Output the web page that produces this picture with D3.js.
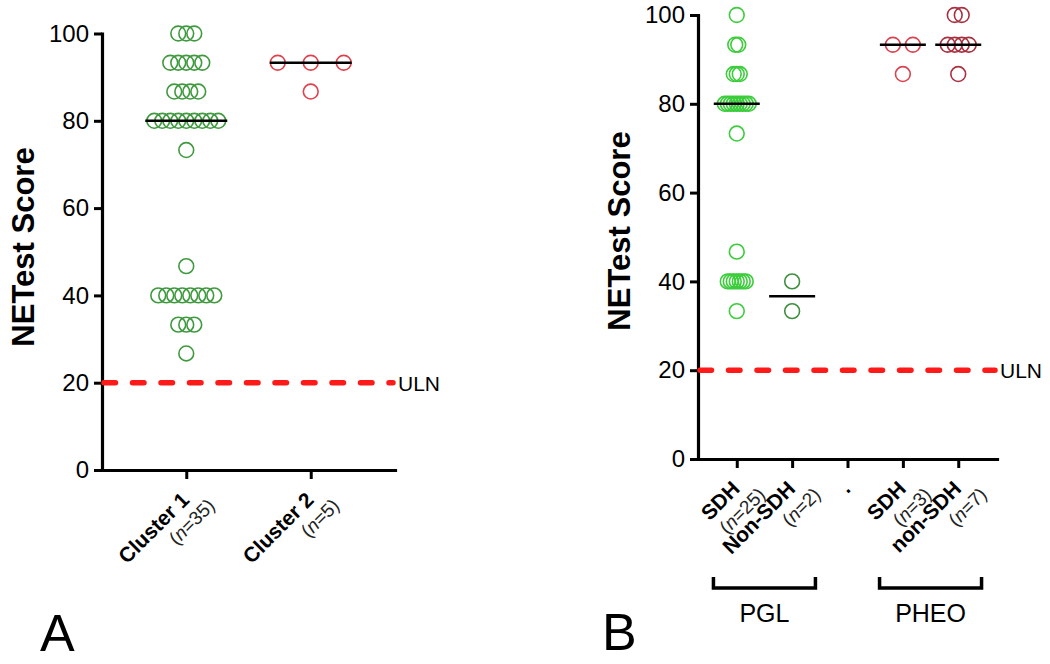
<!DOCTYPE html>
<html>
<head>
<meta charset="utf-8">
<script src="https://cdn.jsdelivr.net/npm/d3@7"></script>
<style>
  html, body { margin: 0; padding: 0; background: #fff; }
  svg { display: block; font-family: "Liberation Sans", Arial, sans-serif; }
</style>
</head>
<body>
<svg id="chart" width="1050" height="664"></svg>
<script>
// ---------------- DATA ----------------
const yTicks = [0, 20, 40, 60, 80, 100];
const ulnValue = 20;
const ulnLabel = "ULN";
const yTitle = "NETest Score";

// Panel A
const catsA = ["Cluster 1", "Cluster 2"];
const nA = ["35", "5"];
const scoresCluster1 = [100, 100, 100, 93.3, 93.3, 93.3, 93.3, 93.3, 86.7, 86.7, 86.7, 86.7,
  80, 80, 80, 80, 80, 80, 80, 80, 80, 73.3, 46.7,
  40, 40, 40, 40, 40, 40, 40, 40, 33.3, 33.3, 33.3, 26.7];
const scoresCluster2 = [93.3, 93.3, 93.3, 86.7];

// Panel B
const keysB = ["PGL SDH", "PGL Non-SDH", "gap", "PHEO SDH", "PHEO non-SDH"];
const catsB = ["SDH", "Non-SDH", ".", "SDH", "non-SDH"];
const nB = ["25", "2", "", "3", "7"];
const groupLabelsB = ["PGL", "PHEO"];
const scoresPglSdh = [100, 93.3, 93.3, 86.7, 86.7, 86.7,
  80, 80, 80, 80, 80, 80, 80, 80, 80, 73.3, 46.7,
  40, 40, 40, 40, 40, 40, 40, 33.3];
const scoresPglNonSdh = [40, 33.3];
const scoresPheoSdh = [93.3, 93.3, 86.7];
const scoresPheoNonSdh = [100, 100, 93.3, 93.3, 93.3, 93.3, 86.7];

// ---------------- STYLE ----------------
const FONT = '"Liberation Sans", Arial, sans-serif';
const svg = d3.select("#chart");
svg.append("rect").attr("width", 1050).attr("height", 664).attr("fill", "#fff");

function swarm(values, spacing) {
  const groups = d3.group(values, v => v);
  const out = [];
  for (const [v, arr] of groups) {
    const k = arr.length;
    arr.forEach((_, i) => out.push({ v, off: (i - (k - 1) / 2) * spacing }));
  }
  return out;
}

function drawPanel(cfg) {
  const g = svg.append("g");
  const y = d3.scaleLinear().domain([0, 100]).range([cfg.y0, cfg.y100]);
  const x = d3.scalePoint().domain(cfg.keys).range([cfg.xLeft, cfg.xRight]).padding(cfg.pad);

  // Y axis
  const ya = g.append("g").attr("transform", `translate(${cfg.xLeft},0)`)
    .call(d3.axisLeft(y).tickValues(yTicks).tickSize(8).tickSizeOuter(0).tickPadding(5));
  ya.select(".domain").attr("stroke-width", 3.2).attr("stroke-linecap", "square");
  ya.selectAll(".tick line").attr("stroke-width", 3);
  ya.selectAll(".tick text").attr("font-size", 24).attr("font-family", FONT).attr("fill", "#000");

  // X axis
  const xa = g.append("g").attr("transform", `translate(0,${cfg.y0})`)
    .call(d3.axisBottom(x).tickSize(9).tickSizeOuter(0).tickFormat(""));
  xa.select(".domain").attr("stroke-width", 3.2).attr("stroke-linecap", "square");
  xa.selectAll(".tick line").attr("stroke-width", 3);

  // Y title
  g.append("text")
    .attr("transform", `translate(${cfg.titleX},${cfg.titleY}) rotate(-90)`)
    .attr("text-anchor", "middle")
    .attr("font-family", FONT).attr("font-weight", "bold").attr("font-size", 31)
    .text(yTitle);

  // ULN line
  g.append("line")
    .attr("x1", cfg.xLeft + 2).attr("x2", cfg.ulnEnd)
    .attr("y1", y(ulnValue)).attr("y2", y(ulnValue))
    .attr("stroke", "#ff1a1a").attr("stroke-width", 5.5)
    .attr("stroke-linecap", "round").attr("stroke-dasharray", "11.5 17");
  g.append("text")
    .attr("x", cfg.ulnEnd + 5).attr("y", y(ulnValue) + 8)
    .attr("font-family", FONT).attr("font-size", 21)
    .text(ulnLabel);

  // Series
  cfg.series.forEach(s => {
    const cx = x(s.key);
    const pts = swarm(s.values, s.spacing);
    g.append("g").selectAll("circle").data(pts).join("circle")
      .attr("cx", d => cx + d.off).attr("cy", d => y(d.v))
      .attr("r", 7.4).attr("fill", "none")
      .attr("stroke", s.color).attr("stroke-width", 1.6);
    const med = d3.median(s.values);
    g.append("line")
      .attr("x1", cx - cfg.medHalf).attr("x2", cx + cfg.medHalf)
      .attr("y1", y(med)).attr("y2", y(med))
      .attr("stroke", "#000").attr("stroke-width", 2.6);
  });

  // Tick labels (rotated, two lines)
  cfg.keys.forEach((k, i) => {
    const lg = g.append("g")
      .attr("transform", `translate(${x(k)},${cfg.y0}) rotate(-45)`);
    lg.append("text")
      .attr("x", -19).attr("y", 25)
      .attr("text-anchor", "end")
      .attr("font-family", FONT).attr("font-weight", "bold").attr("font-size", 21)
      .text(cfg.labels[i]);
    if (cfg.ns[i]) {
      const t = lg.append("text")
        .attr("x", -5).attr("y", 47)
        .attr("text-anchor", "end")
        .attr("font-family", FONT).attr("font-size", 19).attr("fill", "#222");
      t.append("tspan").text("(");
      t.append("tspan").attr("font-style", "italic").text("n");
      t.append("tspan").text("=" + cfg.ns[i] + ")");
    }
  });
  return { g, x, y };
}

// Panel A
drawPanel({
  keys: catsA, labels: catsA, ns: nA,
  xLeft: 102, xRight: 395, pad: 0.677,
  y0: 470, y100: 33.5,
  titleX: 34, titleY: 247,
  ulnEnd: 393, medHalf: 41,
  series: [
    { key: "Cluster 1", values: scoresCluster1, color: "#3f9a3f", spacing: 8 },
    { key: "Cluster 2", values: scoresCluster2, color: "#e0404c", spacing: 33 }
  ]
});

// Panel B
const pB = drawPanel({
  keys: keysB, labels: catsB, ns: nB,
  xLeft: 698, xRight: 997, pad: 0.70,
  y0: 459, y100: 15,
  titleX: 630, titleY: 231,
  ulnEnd: 995, medHalf: 23,
  series: [
    { key: "PGL SDH", values: scoresPglSdh, color: "#3ccc3c", spacing: 3 },
    { key: "PGL Non-SDH", values: scoresPglNonSdh, color: "#3f8f3f", spacing: 8 },
    { key: "PHEO SDH", values: scoresPheoSdh, color: "#d9424e", spacing: 20 },
    { key: "PHEO non-SDH", values: scoresPheoNonSdh, color: "#a8303f", spacing: 7 }
  ]
});

// Group brackets for panel B
const bracketPairs = [["PGL SDH", "PGL Non-SDH"], ["PHEO SDH", "PHEO non-SDH"]];
bracketPairs.forEach((pair, i) => {
  const cx = (pB.x(pair[0]) + pB.x(pair[1])) / 2;
  const half = 51, top = 577, bot = 588;
  pB.g.append("path")
    .attr("d", `M${cx - half},${top} V${bot} H${cx + half} V${top}`)
    .attr("fill", "none").attr("stroke", "#000").attr("stroke-width", 3.5);
  pB.g.append("text")
    .attr("x", cx).attr("y", 622)
    .attr("text-anchor", "middle")
    .attr("font-family", FONT).attr("font-size", 25)
    .text(groupLabelsB[i]);
});

// Panel letters
svg.append("text").attr("x", 40).attr("y", 651)
  .attr("font-family", FONT).attr("font-size", 52).text("A");
svg.append("text").attr("x", 602).attr("y", 650)
  .attr("font-family", FONT).attr("font-size", 52).text("B");
</script>
</body>
</html>
